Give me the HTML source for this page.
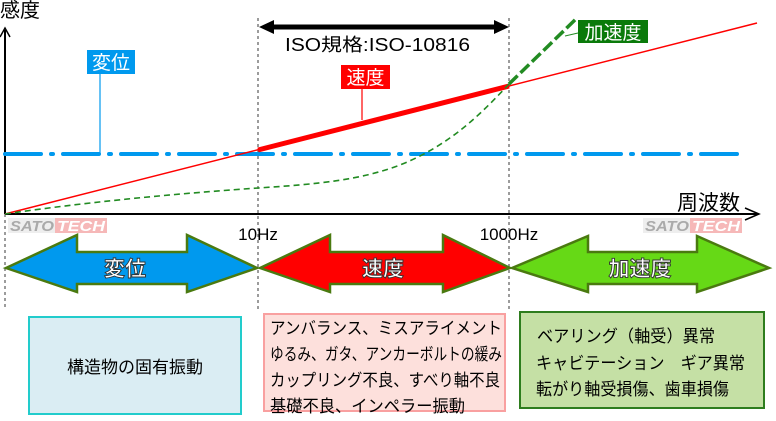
<!DOCTYPE html>
<html><head><meta charset="utf-8"><style>
html,body{margin:0;padding:0;background:#fff;}
svg{display:block;font-family:"Liberation Sans","Noto Sans CJK JP",sans-serif;}
</style></head><body>
<svg width="776" height="421" viewBox="0 0 776 421" xmlns="http://www.w3.org/2000/svg">
<g stroke="#666" stroke-width="1.3" stroke-dasharray="3,3">
<line x1="258" y1="18" x2="258" y2="312"/>
<line x1="509" y1="18" x2="509" y2="312"/>
<line x1="5" y1="214" x2="5" y2="310"/>
</g>
<line x1="5" y1="214" x2="5" y2="30" stroke="#000" stroke-width="2"/>
<polyline points="0,37 5,28 10,37" fill="none" stroke="#000" stroke-width="1.5"/>
<line x1="5" y1="214" x2="758" y2="214" stroke="#000" stroke-width="2"/>
<polyline points="745,208 759,214 745,220" fill="none" stroke="#000" stroke-width="1.5"/>
<text x="0" y="17" font-size="20" textLength="40" lengthAdjust="spacingAndGlyphs">感度</text>
<text x="677" y="210" font-size="21" textLength="63" lengthAdjust="spacingAndGlyphs">周波数</text>
<text x="258" y="240" font-size="17" text-anchor="middle">10Hz</text>
<text x="509" y="240" font-size="17" text-anchor="middle">1000Hz</text>
<line x1="5" y1="154" x2="747" y2="154" stroke="#0099ee" stroke-width="4" stroke-linecap="round" stroke-dasharray="36,10,2,10"/>
<line x1="5" y1="214" x2="757" y2="23" stroke="#f00" stroke-width="1.5"/>
<line x1="258" y1="150" x2="509" y2="86" stroke="#f00" stroke-width="5"/>
<path d="M5,214 C100,200 200,192 258,188 C320,184 360,180 400,165 C450,145 480,115 509,84" fill="none" stroke="#228b22" stroke-width="1.6" stroke-dasharray="6,4"/>
<path d="M509,84 L577,18" fill="none" stroke="#228b22" stroke-width="3.5" stroke-dasharray="12,4"/>
<line x1="272" y1="27" x2="496" y2="27" stroke="#000" stroke-width="5"/>
<polygon points="259,27 274,20 274,34" fill="#000"/>
<polygon points="509,27 494,20 494,34" fill="#000"/>
<text x="285" y="51" font-size="18" textLength="185" lengthAdjust="spacingAndGlyphs">ISO規格:ISO-10816</text>
<line x1="100" y1="73" x2="100" y2="154" stroke="#0099ee" stroke-width="1.2"/>
<rect x="87" y="50" width="48" height="24" fill="#0099ee"/>
<text x="111" y="69" font-size="19" fill="#fff" text-anchor="middle">変位</text>
<line x1="362" y1="88" x2="362" y2="120" stroke="#f00" stroke-width="1.2"/>
<rect x="341" y="65" width="49" height="24" fill="#f00"/>
<text x="365.5" y="84" font-size="19" fill="#fff" text-anchor="middle">速度</text>
<line x1="565" y1="36" x2="578" y2="33" stroke="#228b22" stroke-width="1"/>
<rect x="578" y="20" width="70" height="23" fill="#0a7a0a"/>
<text x="613" y="39" font-size="19" fill="#fff" text-anchor="middle">加速度</text>
<g font-size="15" font-weight="bold" font-style="italic">
<rect x="8" y="218" width="47" height="15" fill="#eee"/><rect x="55" y="218" width="52" height="15" fill="#f6b8b8"/>
<text x="10" y="231" fill="#aaa" textLength="44" lengthAdjust="spacingAndGlyphs">SATO</text><text x="57" y="231" fill="#fff" textLength="48" lengthAdjust="spacingAndGlyphs">TECH</text>
<rect x="643" y="218" width="47" height="15" fill="#eee"/><rect x="690" y="218" width="52" height="15" fill="#f6b8b8"/>
<text x="645" y="231" fill="#aaa" textLength="44" lengthAdjust="spacingAndGlyphs">SATO</text><text x="692" y="231" fill="#fff" textLength="48" lengthAdjust="spacingAndGlyphs">TECH</text>
</g>
<g stroke="#4a7a10" stroke-width="2.5" stroke-linejoin="miter">
<polygon points="6,268 77,235 77,252 187,252 187,235 257,268 187,292 187,284 77,284 77,292" fill="#0099ee"/>
<polygon points="260,268 330,235 330,252 443,252 443,235 510,268 443,292 443,284 330,284 330,292" fill="#f00"/>
<polygon points="512,268 588,236 588,252 697,252 697,236 769,268 697,292 697,284 588,284 588,292" fill="#66d916"/>
</g>
<g font-size="21" font-weight="bold" fill="#fff" stroke="#333" stroke-width="0.9" text-anchor="middle">
<text x="125" y="276">変位</text>
<text x="383" y="276">速度</text>
<text x="640" y="276">加速度</text>
</g>
<rect x="29" y="317" width="212" height="97" fill="#daedf3" stroke="#22cccc" stroke-width="2"/>
<text x="135" y="373" font-size="17" text-anchor="middle" textLength="136" lengthAdjust="spacingAndGlyphs">構造物の固有振動</text>
<rect x="264" y="314" width="241" height="97" fill="#fde0dc" stroke="#f9a0a0" stroke-width="2"/>
<g font-size="17">
<text x="270" y="334" textLength="232" lengthAdjust="spacingAndGlyphs">アンバランス、ミスアライメント</text>
<text x="270" y="360" textLength="232" lengthAdjust="spacingAndGlyphs">ゆるみ、ガタ、アンカーボルトの緩み</text>
<text x="270" y="386" textLength="230" lengthAdjust="spacingAndGlyphs">カップリング不良、すべり軸不良</text>
<text x="270" y="412" textLength="195" lengthAdjust="spacingAndGlyphs">基礎不良、インペラー振動</text>
</g>
<rect x="520" y="312" width="244" height="96" fill="#c5e0a5" stroke="#2e7d1e" stroke-width="2"/>
<g font-size="17">
<text x="537" y="342" textLength="178" lengthAdjust="spacingAndGlyphs">ベアリング（軸受）異常</text>
<text x="536" y="369" textLength="209" lengthAdjust="spacingAndGlyphs">キャビテーション　ギア異常</text>
<text x="536" y="395" textLength="193" lengthAdjust="spacingAndGlyphs">転がり軸受損傷、歯車損傷</text>
</g>
</svg>
</body></html>
